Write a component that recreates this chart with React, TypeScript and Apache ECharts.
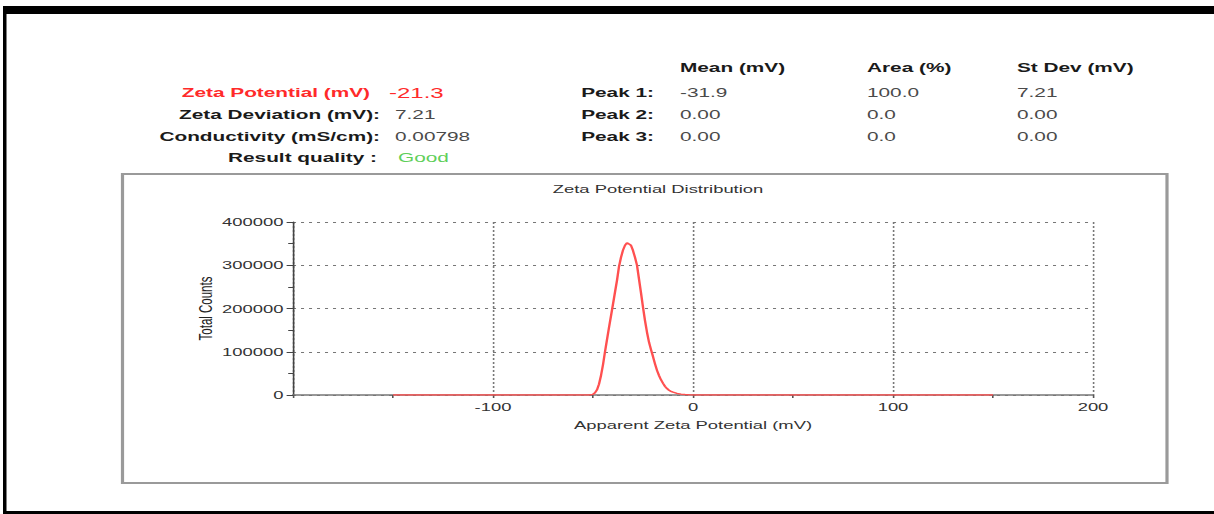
import React, { useEffect, useRef } from "react";
import * as echarts from "echarts";

// ---- data ----
const zetaMv = [-150, -100, -60, -52, -50, -49, -48, -47, -46, -45, -44, -43, -42, -41, -40, -39, -38, -37, -36, -35, -34, -33, -32, -31, -30, -29, -28, -27, -26, -25, -24, -23, -22, -21, -20, -19, -18, -17, -16, -15, -14, -13, -12, -11, -10, -8, -6, -4, -2, 0, 50, 100, 150];
const totalCounts = [0, 0, 0, 0, 1500, 5000, 12000, 25000, 45000, 70000, 100000, 128000, 156000, 183000, 210000, 238000, 265000, 297000, 318000, 335000, 346000, 352000, 349000, 346000, 334000, 318000, 300000, 268000, 236000, 203000, 172000, 145000, 122000, 105000, 89000, 72000, 57000, 45000, 35000, 27000, 20000, 15000, 11000, 8500, 6500, 3800, 2000, 900, 300, 0, 0, 0, 0];

const leftLabels = ["Zeta Potential (mV)", "Zeta Deviation (mV):", "Conductivity (mS/cm):", "Result quality :"];
const leftValues = ["-21.3", "7.21", "0.00798", "Good"];
const peakLabels = ["Peak 1:", "Peak 2:", "Peak 3:"];
const columnHeaders = ["Mean (mV)", "Area (%)", "St Dev (mV)"];
const meanValues = ["-31.9", "0.00", "0.00"];
const areaValues = ["100.0", "0.0", "0.0"];
const stdevValues = ["7.21", "0.00", "0.00"];

const chartTitle = "Zeta Potential Distribution";
const xName = "Apparent Zeta Potential (mV)";
const yName = "Total Counts";

// ---- layout ----
const S = 1.6; // horizontal stretch of the reference
const W = 1214 / S;
const px = (x: number) => x / S;
const FONT = '"Liberation Sans", Arial, sans-serif';

function txt(text: string, x: number, y: number, opts: any = {}) {
  return {
    type: "text",
    x: px(x),
    y,
    silent: true,
    style: {
      text,
      fill: opts.fill || "#1a1a1a",
      font: `${opts.weight || "normal"} ${opts.size || 13}px ${FONT}`,
      align: opts.align || "left",
      textAlign: opts.align || "left",
      verticalAlign: "middle",
      textVerticalAlign: "middle",
    },
  };
}

export default function App() {
  const ref = useRef<HTMLDivElement>(null);
  useEffect(() => {
    const chart = echarts.init(ref.current!, null, { renderer: "svg" });
    const rowY = [93, 115, 137, 158];
    const labelRight = [370, 380, 380, 377];
    const valueLeft = [389, 395, 395, 398];
    const colX = [680, 867, 1017];
    const graphics: any[] = [];
    // outer black border
    graphics.push({ type: "rect", shape: { x: px(3), y: 6, width: px(1214) + 5, height: 8 }, style: { fill: "#000" }, silent: true });
    graphics.push({ type: "rect", shape: { x: px(3), y: 6, width: px(3.5), height: 510 }, style: { fill: "#000" }, silent: true });
    graphics.push({ type: "rect", shape: { x: px(3), y: 511, width: px(1214) + 5, height: 4 }, style: { fill: "#000" }, silent: true });
    // chart frame
    graphics.push({ type: "rect", shape: { x: px(122.5), y: 174, width: px(1167 - 122.5), height: 309 }, style: { fill: "none", stroke: "#9a9a9a", lineWidth: 2 }, silent: true });
    // left block
    leftLabels.forEach((l, i) => {
      graphics.push(txt(l, labelRight[i], rowY[i], { weight: "bold", align: "right", fill: i === 0 ? "#ff2a2a" : "#1a1a1a" }));
    });
    leftValues.forEach((v, i) => {
      const fill = i === 0 ? "#ff2a2a" : i === 3 ? "#5fcf5a" : "#4a4a4a";
      graphics.push(txt(v, valueLeft[i], rowY[i], { size: i === 0 ? 15 : 13, fill }));
    });
    // peak table
    columnHeaders.forEach((h, j) => graphics.push(txt(h, colX[j], 68, { weight: "bold" })));
    peakLabels.forEach((p, i) => {
      graphics.push(txt(p, 654, rowY[i], { weight: "bold", align: "right" }));
      graphics.push(txt(meanValues[i], colX[0], rowY[i], { fill: "#4a4a4a" }));
      graphics.push(txt(areaValues[i], colX[1], rowY[i], { fill: "#4a4a4a" }));
      graphics.push(txt(stdevValues[i], colX[2], rowY[i], { fill: "#4a4a4a" }));
    });
    // chart title
    graphics.push(txt(chartTitle, 658, 189, { size: 11.5, align: "center", fill: "#333" }));

    chart.setOption({
      animation: false,
      backgroundColor: "#fff",
      graphic: { elements: graphics },
      grid: { left: px(293), width: px(800), top: 222, height: 173 },
      xAxis: {
        type: "value",
        min: -200,
        max: 200,
        interval: 100,
        name: xName,
        nameLocation: "middle",
        nameGap: 24,
        nameTextStyle: { color: "#333", fontSize: 11.5, fontFamily: FONT },
        axisLine: { show: true, onZero: false, lineStyle: { color: "#777", width: 1.5 } },
        axisTick: { show: true, length: 3, lineStyle: { color: "#555" } },
        minorTick: { show: true, splitNumber: 2, length: 3, lineStyle: { color: "#555" } },
        axisLabel: {
          color: "#333",
          fontSize: 11.5,
          fontFamily: FONT,
          margin: 6,
          formatter: (v: number) => (v === -200 ? "" : String(v)),
        },
        splitLine: { show: true, lineStyle: { color: "#777", type: [2, 2], width: 1 } },
      },
      yAxis: {
        type: "value",
        min: 0,
        max: 400000,
        interval: 100000,
        name: yName,
        nameLocation: "middle",
        nameGap: 49,
        nameMoveOverlap: false,
        nameTextStyle: { color: "#222", fontSize: 11.5, fontFamily: FONT },
        axisLine: { show: true, onZero: false, lineStyle: { color: "#444", width: 1 } },
        axisTick: { show: true, length: 4, lineStyle: { color: "#444" } },
        minorTick: { show: true, splitNumber: 2, length: 3, lineStyle: { color: "#444" } },
        axisLabel: { color: "#333", fontSize: 11.5, fontFamily: FONT, margin: 6, formatter: (v: number) => String(v) },
        splitLine: { show: true, lineStyle: { color: "#777", type: [1.9, 3.1], width: 1 } },
      },
      series: [
        {
          type: "line",
          data: zetaMv.map((x, i) => [x, totalCounts[i]]),
          showSymbol: false,
          lineStyle: { color: "#ff5050", width: 1.5 },
          itemStyle: { color: "#ff5050" },
        },
      ],
    });
    return () => chart.dispose();
  }, []);
  return (
    <div
      ref={ref}
      style={{
        position: "fixed",
        left: 0,
        top: 0,
        width: W,
        height: 514,
        transform: `scaleX(${S})`,
        transformOrigin: "0 0",
        background: "#fff",
      }}
    />
  );
}
